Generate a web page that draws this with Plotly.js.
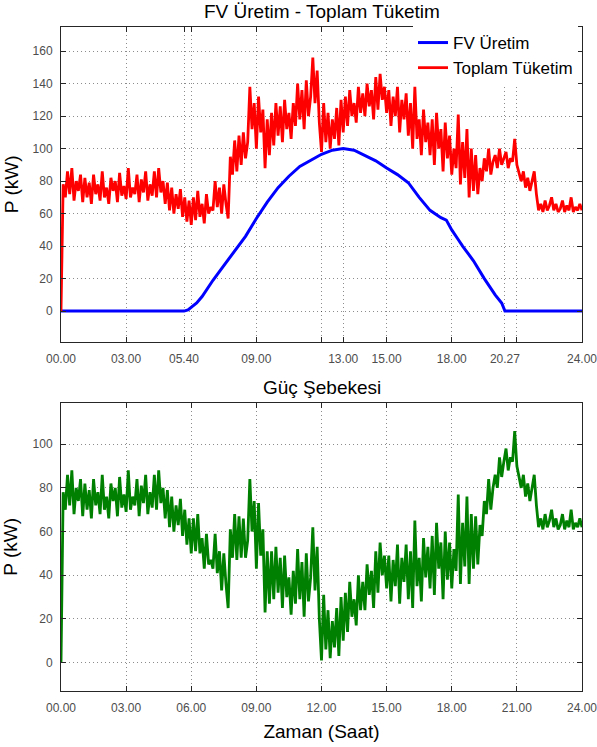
<!DOCTYPE html>
<html>
<head>
<meta charset="utf-8">
<script src="https://cdn.plot.ly/plotly-3.0.1.min.js"></script>
<style>
html,body{margin:0;padding:0;background:#fff;}
#chart{width:597px;height:747px;}
</style>
</head>
<body>
<div id="chart"></div>
<script>
// Time step: 6 minutes (0.1 h), 0..24 h
const consumption = [
0, 78, 70, 86, 72, 88, 68, 80, 74, 84,
67, 82, 70, 79, 66, 84, 72, 78, 68, 86,
70, 76, 66, 82, 74, 80, 67, 85, 71, 77,
69, 88, 70, 76, 72, 84, 67, 81, 73, 86,
68, 78, 71, 86, 70, 88, 73, 80, 66, 79,
62, 76, 60, 72, 63, 75, 58, 70, 55, 68,
53, 70, 56, 74, 58, 66, 54, 72, 60, 64,
62, 80, 64, 76, 60, 78, 66, 57, 95, 84,
105, 86, 108, 90, 110, 94, 104, 138, 112, 128,
100, 132, 110, 124, 88, 118, 96, 122, 102, 128,
108, 126, 104, 130, 112, 122, 106, 128, 114, 140,
118, 136, 112, 142, 120, 132, 156, 128, 148, 116,
98, 128, 104, 122, 100, 118, 106, 125, 102, 130,
110, 132, 114, 136, 120, 128, 116, 138, 122, 134,
120, 140, 126, 136, 118, 144, 124, 146, 130, 138,
122, 136, 114, 132, 120, 138, 110, 130, 118, 134,
108, 128, 100, 138, 106, 118, 96, 124, 104, 116,
96, 118, 90, 122, 100, 112, 86, 116, 94, 108,
84, 100, 88, 121, 78, 104, 82, 112, 70, 100,
74, 96, 72, 88, 80, 94, 86, 100, 84, 92,
96, 88, 100, 90, 94, 98, 88, 94, 92, 106,
90, 84, 80, 86, 76, 82, 74, 80, 86, 72,
62, 66, 61, 68, 62, 65, 70, 62, 66, 61,
63, 68, 61, 65, 62, 70, 61, 64, 62, 66,
62];

const grid = [
0, 78, 70, 86, 72, 88, 68, 80, 74, 84,
67, 82, 70, 79, 66, 84, 72, 78, 68, 86,
70, 76, 66, 82, 74, 80, 67, 85, 71, 77,
69, 88, 70, 76, 72, 84, 67, 81, 73, 86,
68, 78, 71, 86, 70, 88, 73, 80, 66, 79,
62, 76, 60, 72, 63, 75, 58, 70, 54, 66,
50, 66, 51, 68, 50, 57, 43, 59, 45, 47,
43, 59, 41, 51, 33, 50, 36, 25, 61, 48,
68, 47, 67, 48, 66, 48, 56, 84, 60, 74,
43, 73, 49, 61, 23, 51, 27, 51, 29, 53,
32, 48, 25, 49, 30, 39, 22, 42, 27, 52,
29, 46, 21, 50, 28, 39, 62, 33, 53, 20,
1, 31, 6, 24, 2, 19, 7, 25, 3, 30,
10, 32, 14, 37, 21, 29, 17, 40, 24, 37,
24, 45, 31, 42, 25, 51, 32, 55, 40, 49,
34, 49, 28, 47, 35, 54, 27, 48, 37, 54,
29, 51, 25, 65, 35, 48, 28, 57, 39, 53,
34, 58, 31, 64, 43, 55, 29, 60, 38, 55,
34, 52, 42, 77, 36, 64, 44, 76, 36, 68,
43, 67, 45, 63, 58, 74, 68, 84, 70, 80,
86, 80, 94, 85, 92, 98, 88, 94, 92, 106,
90, 84, 80, 86, 76, 82, 74, 80, 86, 72,
62, 66, 61, 68, 62, 65, 70, 62, 66, 61,
63, 68, 61, 65, 62, 70, 61, 64, 62, 66,
62];

const pvTime = [0, 5.667, 5.85, 6, 6.25, 6.5, 7, 7.5, 8, 8.5, 9, 9.5, 10, 10.5, 11, 11.5, 12, 12.5, 13, 13.5, 14, 14.5, 15, 15.5, 16, 16.5, 17, 17.5, 17.75, 18, 18.25, 18.5, 19, 19.5, 20, 20.3, 20.45, 24];
const pv     = [0, 0,     0.8,  2.5, 5,  9,   19, 28, 37, 46, 57, 67, 76, 83, 89, 93, 96.5, 99, 100, 99, 96, 92.5, 88, 84, 79, 70, 62, 57.5, 56, 50, 45, 40, 31, 20, 10, 5, 0, 0];

const topTickVals = [0, 3, 5.667, 6, 9, 12, 13, 15, 18, 20.45, 21, 24];
const topTickText = ['00.00', '03.00', '05.40', '', '09.00', '', '13.00', '15.00', '18.00', '20.27', '', '24.00'];
const botTickVals = [0, 3, 6, 9, 12, 15, 18, 21, 24];
const botTickText = ['00.00', '03.00', '06.00', '09.00', '12.00', '15.00', '18.00', '21.00', '24.00'];
const topYTicks = [0, 20, 40, 60, 80, 100, 120, 140, 160];
const botYTicks = [0, 20, 40, 60, 80, 100];

const T = consumption.map((_, i) => i / 10);

const W = 597, H = 747;
const py = v => 1 - v / H;

const axisCommon = {
  showline: true, linecolor: '#262626', linewidth: 1, mirror: 'ticks',
  ticks: 'inside', ticklen: 5, tickcolor: '#262626',
  showgrid: true, gridcolor: 'rgba(0,0,0,0.45)', griddash: '1px,3px', gridwidth: 1,
  zeroline: false, tickfont: {family: 'Arial, Liberation Sans, sans-serif', size: 12, color: '#4d4d4d'},
  ticklabelstandoff: 6, ticklabeloverflow: 'allow'
};

const traces = [
  {x: pvTime, y: pv, type: 'scatter', mode: 'lines', name: 'FV Üretim',
   line: {color: '#0000ff', width: 3}, xaxis: 'x', yaxis: 'y'},
  {x: T, y: consumption, type: 'scatter', mode: 'lines', name: 'Toplam Tüketim',
   line: {color: '#ff0000', width: 2.8}, xaxis: 'x', yaxis: 'y'},
  {x: T, y: grid, type: 'scatter', mode: 'lines', name: 'Güç Şebekesi', showlegend: false,
   line: {color: '#008000', width: 2.8}, xaxis: 'x2', yaxis: 'y2'}
];

const font = 'Arial, Liberation Sans, sans-serif';

const layout = {
  width: W, height: H,
  margin: {l: 61, r: 15, t: 0, b: 0},
  paper_bgcolor: '#fff', plot_bgcolor: '#fff',
  font: {family: font, color: '#000'},
  showlegend: true,
  legend: {x: (413 - 61) / 521, y: py(25), xanchor: 'left', yanchor: 'top',
           bgcolor: '#fff', borderwidth: 0, font: {family: font, size: 17, color: '#000'}},
  xaxis: Object.assign({}, axisCommon, {domain: [0, 1], range: [0, 24], anchor: 'y',
           tickmode: 'array', tickvals: topTickVals, ticktext: topTickText}),
  yaxis: Object.assign({}, axisCommon, {domain: [py(342), py(26.7)], range: [-19, 175], anchor: 'x',
           tickmode: 'array', tickvals: topYTicks, ticklabelstandoff: 5,
           title: {text: 'P (kW)', font: {family: font, size: 19, color: '#000'}, standoff: 8}}),
  xaxis2: Object.assign({}, axisCommon, {domain: [0, 1], range: [0, 24], anchor: 'y2',
           tickmode: 'array', tickvals: botTickVals, ticktext: botTickText,
           title: {text: 'Zaman (Saat)', font: {family: font, size: 19, color: '#000'}, standoff: 10}}),
  yaxis2: Object.assign({}, axisCommon, {domain: [py(691), py(402.7)], range: [-13, 119], anchor: 'x2',
           tickmode: 'array', tickvals: botYTicks, ticklabelstandoff: 5,
           title: {text: 'P (kW)', font: {family: font, size: 19, color: '#000'}, standoff: 14}}),
  annotations: [
    {text: 'FV Üretim - Toplam Tüketim', xref: 'paper', yref: 'paper', x: 0.5, y: py(12),
     xanchor: 'center', yanchor: 'middle', showarrow: false, font: {family: font, size: 19, color: '#000'}},
    {text: 'Güç Şebekesi', xref: 'paper', yref: 'paper', x: 0.5, y: py(387),
     xanchor: 'center', yanchor: 'middle', showarrow: false, font: {family: font, size: 19, color: '#000'}}
  ]
};

Plotly.newPlot('chart', traces, layout, {staticPlot: true, displayModeBar: false});
</script>
</body>
</html>
